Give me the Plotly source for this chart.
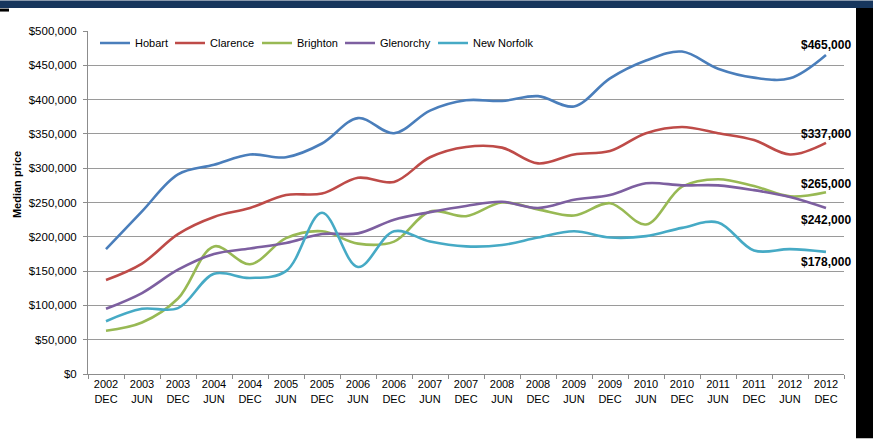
import plotly.graph_objects as go

categories = ["2002<br>DEC", "2003<br>JUN", "2003<br>DEC", "2004<br>JUN", "2004<br>DEC",
              "2005<br>JUN", "2005<br>DEC", "2006<br>JUN", "2006<br>DEC", "2007<br>JUN",
              "2007<br>DEC", "2008<br>JUN", "2008<br>DEC", "2009<br>JUN", "2009<br>DEC",
              "2010<br>JUN", "2010<br>DEC", "2011<br>JUN", "2011<br>DEC", "2012<br>JUN",
              "2012<br>DEC"]

hobart = [182000, 237000, 291000, 305000, 320000, 316000, 336000, 373000, 351000, 384000,
          399000, 398000, 405000, 390000, 431000, 457000, 470000, 445000, 432000, 431000, 465000]
clarence = [137000, 161000, 204000, 229000, 242000, 261000, 263000, 286000, 280000, 316000,
            331000, 330000, 307000, 320000, 325000, 351000, 360000, 351000, 341000, 320000, 337000]
brighton = [63000, 75000, 110000, 186000, 160000, 198000, 208000, 190000, 193000, 237000,
            230000, 250000, 240000, 231000, 249000, 218000, 273000, 284000, 274000, 259000, 265000]
glenorchy = [95000, 118000, 152000, 175000, 183000, 191000, 204000, 205000, 225000, 236000,
             245000, 251000, 242000, 254000, 261000, 278000, 275000, 275000, 268000, 258000, 242000]
new_norfolk = [77000, 95000, 96000, 146000, 140000, 150000, 235000, 156000, 208000, 193000,
               186000, 188000, 199000, 208000, 199000, 201000, 213000, 221000, 180000, 182000, 178000]

series_names = ["Hobart", "Clarence", "Brighton", "Glenorchy", "New Norfolk"]
series_values = [hobart, clarence, brighton, glenorchy, new_norfolk]
series_colors = ["#4A7EBB", "#BE4B48", "#98B954", "#7D5FA0", "#46AAC5"]
legend_widths = [30, 42, 38, 48, 60]
end_labels = ["$465,000", "$337,000", "$265,000", "$242,000", "$178,000"]
end_shifts = [10, 9, 8, -12, -10]

y_ticks = list(range(0, 500001, 50000))
y_ticktext = ["$" + format(v, ",") for v in y_ticks]

W, H = 873, 439
L, R, T, B = 88, 844, 30.5, 374.5


def px(x):
    return (x - L) / (R - L)


def py(y):
    return (B - y) / (B - T)


FONT = "Arial, Liberation Sans, sans-serif"

fig = go.Figure()
for name, vals, col, lw in zip(series_names, series_values, series_colors, legend_widths):
    fig.add_trace(go.Scatter(x=categories, y=vals, name=name, mode="lines", legendwidth=lw,
                             line=dict(color=col, width=2.6, shape="spline", smoothing=1.0)))

annotations = []
for vals, txt, sh in zip(series_values, end_labels, end_shifts):
    annotations.append(dict(x=categories[-1], y=vals[-1], xref="x", yref="y", text="<b>" + txt + "</b>",
                            showarrow=False, yshift=sh, font=dict(family=FONT, size=12, color="#000000")))
annotations.append(dict(x=px(17), y=py(185), xref="paper", yref="paper", text="<b>Median price</b>",
                        textangle=-90, showarrow=False, xanchor="center", yanchor="middle",
                        font=dict(family=FONT, size=11, color="#000000")))

shapes = [
    dict(type="rect", xref="paper", yref="paper", x0=px(0), x1=px(873), y0=py(0), y1=py(7.5),
         fillcolor="#17365D", line=dict(width=0), layer="below"),
    dict(type="rect", xref="paper", yref="paper", x0=px(0), x1=px(9), y0=py(8), y1=py(11),
         fillcolor="#000000", line=dict(width=0), layer="below"),
    dict(type="rect", xref="paper", yref="paper", x0=px(856), x1=px(873), y0=py(7.5), y1=py(439),
         fillcolor="#000000", line=dict(width=0), layer="below"),
]

fig.update_layout(
    width=W, height=H,
    margin=dict(l=L, r=W - R, t=T, b=H - B, pad=0),
    paper_bgcolor="#FFFFFF", plot_bgcolor="#FFFFFF",
    font=dict(family=FONT, size=11, color="#000000"),
    showlegend=True,
    legend=dict(orientation="h", x=px(95), y=py(28), xanchor="left", yanchor="top",
                font=dict(family=FONT, size=11, color="#000000"), bgcolor="rgba(0,0,0,0)",
                itemwidth=30, tracegroupgap=0),
    annotations=annotations,
    shapes=shapes,
    xaxis=dict(type="category", range=[-0.5, 20.5], showgrid=False, showline=True,
               linecolor="#8C8C8C", linewidth=1, ticks="outside", tickson="boundaries",
               ticklen=4, tickcolor="#8C8C8C", tickfont=dict(family=FONT, size=11, color="#000000"),
               zeroline=False, fixedrange=True),
    yaxis=dict(range=[0, 500000], tickvals=y_ticks, ticktext=y_ticktext, showgrid=True,
               gridcolor="#9A9A9A", gridwidth=1, showline=True, linecolor="#8C8C8C", linewidth=1,
               ticks="outside", ticklen=4, tickcolor="#8C8C8C", zeroline=False, ticklabelstandoff=4,
               tickfont=dict(family=FONT, size=11.5, color="#000000"), fixedrange=True),
)

fig.write_html("out.html")
